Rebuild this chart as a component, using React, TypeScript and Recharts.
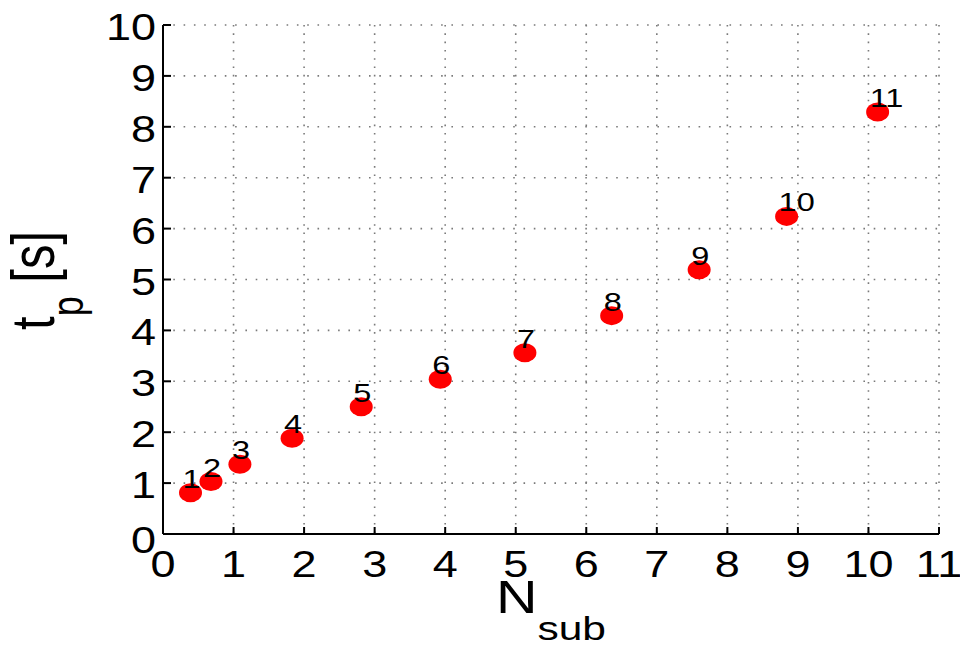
import React from 'react';
import { ScatterChart, Scatter, XAxis, YAxis, CartesianGrid } from 'recharts';

// Sub-iteration count vs. processing time
const nSub = [0.39, 0.68, 1.09, 1.83, 2.81, 3.93, 5.13, 6.36, 7.6, 8.84, 10.13];
const tp = [0.81, 1.03, 1.37, 1.88, 2.5, 3.04, 3.56, 4.29, 5.19, 6.24, 8.29];
const pointLabels = ['1', '2', '3', '4', '5', '6', '7', '8', '9', '10', '11'];

const xTicks = [0, 1, 2, 3, 4, 5, 6, 7, 8, 9, 10, 11];
const yTicks = [0, 1, 2, 3, 4, 5, 6, 7, 8, 9, 10];

const data = nSub.map((x, i) => ({ x, y: tp[i], label: pointLabels[i] }));

const FONT = '"Liberation Sans", Arial, Helvetica, sans-serif';
const SX = 1.25; // horizontal glyph stretch
const AXIS = '#000';
const TICK_LEN = 7;

const BottomTick = (props: any) => {
  const { x, y, payload } = props;
  return (
    <g>
      <line x1={x} y1={y} x2={x} y2={y - TICK_LEN} stroke={AXIS} strokeWidth={2} />
      <g transform={`translate(${x},${y + 43}) scale(${SX},1)`}>
        <text x={0} y={0} textAnchor="middle" fontSize={36} fontFamily={FONT} fill="#000">
          {payload.value}
        </text>
      </g>
    </g>
  );
};

const TopTick = (props: any) => {
  const { x, y } = props;
  return <line x1={x} y1={y} x2={x} y2={y + TICK_LEN} stroke={AXIS} strokeWidth={2} />;
};

const LeftTick = (props: any) => {
  const { x, y, payload } = props;
  const dy = payload.value === 0 ? 19 : 15;
  return (
    <g>
      <line x1={x} y1={y} x2={x + TICK_LEN + 1} y2={y} stroke={AXIS} strokeWidth={2} />
      <g transform={`translate(${x - 7},${y + dy}) scale(${SX},1)`}>
        <text x={0} y={0} textAnchor="end" fontSize={36} fontFamily={FONT} fill="#000">
          {payload.value}
        </text>
      </g>
    </g>
  );
};

const RightTick = (props: any) => {
  const { x, y } = props;
  return <line x1={x} y1={y} x2={x - TICK_LEN - 1} y2={y} stroke={AXIS} strokeWidth={2} />;
};

const Marker = (props: any) => {
  const { cx, cy, payload } = props;
  return (
    <g>
      <ellipse cx={cx} cy={cy} rx={11.5} ry={9.5} fill="#ff0000" />
      <g transform={`translate(${cx - 8},${cy - 5}) scale(${SX},1)`}>
        <text x={0} y={0} fontSize={26} fontFamily={FONT} fill="#000">
          {payload.label}
        </text>
      </g>
    </g>
  );
};

const YTitle = (props: any) => {
  const vb = props.viewBox || { x: 0, y: 25, width: 163, height: 509 };
  const cy = vb.y + vb.height / 2 + 1;
  return (
    <g transform={`translate(54,${cy}) scale(${SX},1) rotate(-90)`}>
      <text x={0} y={0} textAnchor="middle" fontSize={49} fontFamily={FONT} fill="#000">
        <tspan>t</tspan>
        <tspan fontSize={36} dy={23}>p</tspan>
        <tspan dy={-23}>{'\u00A0[s]'}</tspan>
      </text>
    </g>
  );
};

const XTitle = (props: any) => {
  const vb = props.viewBox || { x: 163, y: 534, width: 776, height: 111 };
  const cx = vb.x + vb.width / 2;
  return (
    <g transform={`translate(${cx},613) scale(${SX},1)`}>
      <text x={0} y={0} textAnchor="middle" fontSize={46} fontFamily={FONT} fill="#000">
        <tspan>N</tspan>
        <tspan fontSize={34} dy={27}>sub</tspan>
      </text>
    </g>
  );
};

export default function App() {
  return (
    <div style={{ position: 'absolute', left: 0, top: 0, background: '#fff' }}>
      <ScatterChart
        width={960}
        height={645}
        margin={{ top: 25, right: 21, bottom: 0, left: 0 }}
      >
        <CartesianGrid
          vertical={false}
          stroke="#7a7a7a"
          strokeWidth={1.6}
          strokeDasharray="1.6 8.7"
        />
        <CartesianGrid
          horizontal={false}
          stroke="#7a7a7a"
          strokeWidth={1.6}
          strokeDasharray="1.6 6.7"
        />
        <XAxis
          type="number"
          dataKey="x"
          domain={[0, 11]}
          ticks={xTicks}
          interval={0}
          height={111}
          tickSize={0}
          tickMargin={0}
          tickLine={false}
          axisLine={{ stroke: AXIS, strokeWidth: 2 }}
          tick={(p: any) => <BottomTick {...p} />}
          label={{ content: (p: any) => <XTitle {...p} /> }}
        />
        <XAxis
          xAxisId="top"
          orientation="top"
          type="number"
          dataKey="x"
          domain={[0, 11]}
          ticks={xTicks}
          interval={0}
          height={0}
          tickSize={0}
          tickMargin={0}
          tickLine={false}
          axisLine={{ stroke: AXIS, strokeWidth: 2 }}
          tick={(p: any) => <TopTick {...p} />}
        />
        <YAxis
          type="number"
          dataKey="y"
          domain={[0, 10]}
          ticks={yTicks}
          interval={0}
          width={163}
          tickSize={0}
          tickMargin={0}
          tickLine={false}
          axisLine={{ stroke: AXIS, strokeWidth: 2 }}
          tick={(p: any) => <LeftTick {...p} />}
          label={{ content: (p: any) => <YTitle {...p} /> }}
        />
        <YAxis
          yAxisId="right"
          orientation="right"
          type="number"
          dataKey="y"
          domain={[0, 10]}
          ticks={yTicks}
          interval={0}
          width={0}
          tickSize={0}
          tickMargin={0}
          tickLine={false}
          axisLine={{ stroke: AXIS, strokeWidth: 2 }}
          tick={(p: any) => <RightTick {...p} />}
        />
        <Scatter data={data} isAnimationActive={false} shape={(p: any) => <Marker {...p} />} />
      </ScatterChart>
    </div>
  );
}
